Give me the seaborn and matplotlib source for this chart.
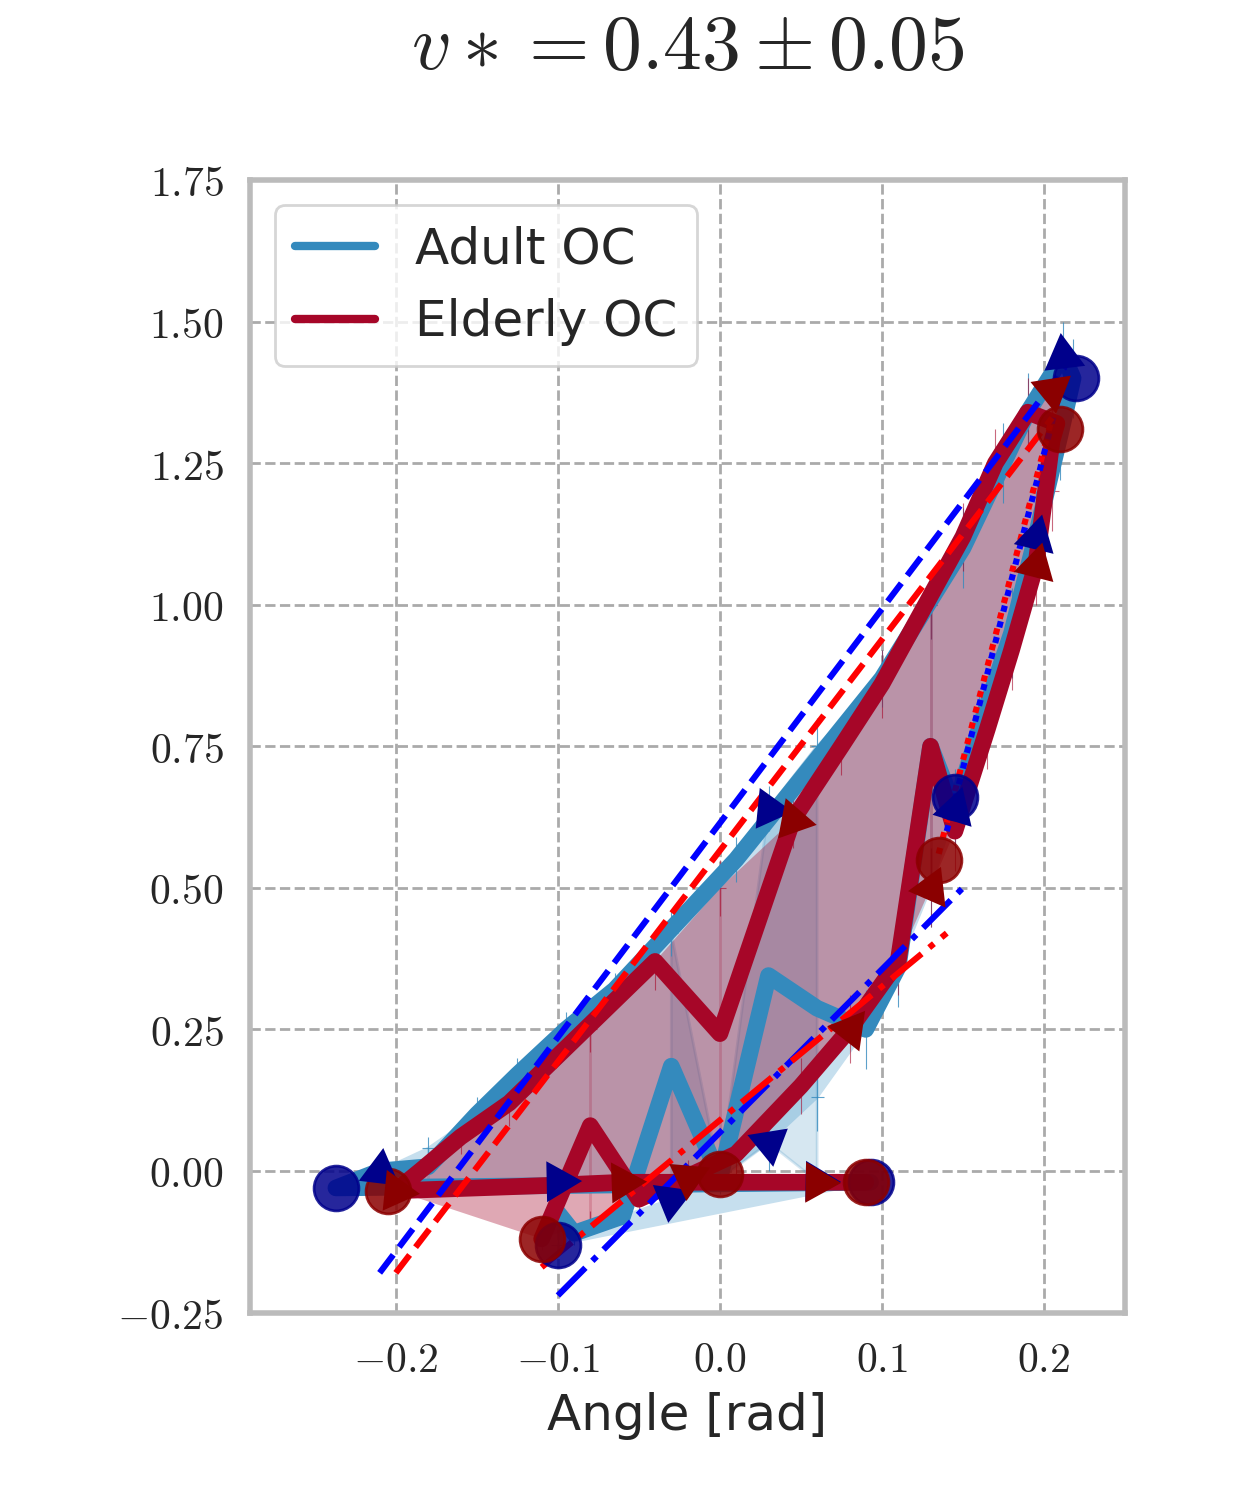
import numpy as np
import matplotlib.pyplot as plt
import seaborn as sns

sns.set_theme(style="whitegrid")
plt.rcParams['mathtext.fontset'] = 'cm'
plt.rcParams['font.family'] = ['DejaVu Sans']

adult_blue = "#348abd"
elder_red = "#a60628"

# Adult OC path: stance (lower branch) up, back down upper branch, then swing (flat)
adult_x = [-0.10, -0.09, -0.06, -0.03, 0.0, 0.03, 0.06, 0.09, 0.11, 0.13, 0.145, 0.16, 0.18, 0.195, 0.21, 0.218, 0.212,
           0.19, 0.175, 0.15, 0.13, 0.10, 0.06, 0.03, 0.01, -0.03, -0.065, -0.095, -0.125, -0.15, -0.18, -0.21, -0.237,
           -0.18, -0.10, 0.0, 0.06, 0.093]
adult_y = [-0.13, -0.11, -0.08, -0.05, -0.01, 0.05, 0.13, 0.25, 0.36, 0.50, 0.64, 0.78, 0.95, 1.12, 1.30, 1.40, 1.44,
           1.34, 1.25, 1.10, 1.00, 0.87, 0.75, 0.64, 0.55, 0.42, 0.32, 0.25, 0.17, 0.10, 0.04, 0.0, -0.03,
           -0.025, -0.018, -0.015, -0.018, -0.02]
adult_err = [0.02, 0.02, 0.03, 0.03, 0.03, 0.05, 0.06, 0.07, 0.07, 0.07, 0.07, 0.07, 0.08, 0.08, 0.08, 0.07, 0.06,
             0.07, 0.07, 0.07, 0.06, 0.05, 0.05, 0.04, 0.04, 0.04, 0.03, 0.03, 0.03, 0.03, 0.02, 0.02, 0.01,
             0.01, 0.01, 0.01, 0.01, 0.01]

elder_x = [-0.11, -0.08, -0.05, -0.02, 0.01, 0.05, 0.08, 0.11, 0.13, 0.145, 0.165, 0.18, 0.195, 0.205, 0.208, 0.205,
           0.19, 0.17, 0.15, 0.13, 0.10, 0.075, 0.045, 0.0, -0.04, -0.08, -0.13, -0.16, -0.185, -0.20,
           -0.10, -0.06, 0.0, 0.06, 0.09]
elder_y = [-0.12, -0.09, -0.05, -0.01, 0.03, 0.15, 0.25, 0.37, 0.50, 0.60, 0.78, 0.92, 1.07, 1.20, 1.32, 1.38,
           1.34, 1.25, 1.12, 1.00, 0.86, 0.75, 0.62, 0.50, 0.37, 0.25, 0.12, 0.06, 0.0, -0.035,
           -0.025, -0.02, -0.015, -0.02, -0.02]
elder_err = [0.02, 0.02, 0.03, 0.03, 0.04, 0.05, 0.06, 0.06, 0.07, 0.07, 0.07, 0.07, 0.07, 0.07, 0.06, 0.06,
             0.06, 0.06, 0.06, 0.06, 0.06, 0.05, 0.05, 0.05, 0.05, 0.04, 0.04, 0.03, 0.02, 0.01,
             0.01, 0.01, 0.01, 0.01, 0.01]

adult_circles = [(-0.10, -0.13), (0.145, 0.66), (0.22, 1.40), (-0.237, -0.03), (0.093, -0.02)]
elder_circles = [(-0.11, -0.12), (0.135, 0.55), (0.21, 1.31), (-0.205, -0.035), (0.09, -0.02), (0.0, -0.005)]
adult_tri_idx = [5, 10, 13, 16, 23, 31, 34, 36, 3]
elder_tri_idx = [3, 6, 8, 12, 15, 22, 29, 31, 33]

# fitted stiffness lines: (x0, y0, x1, y1)
adult_fits = [((-0.21, -0.18), (0.213, 1.42), '--'), ((-0.10, -0.22), (0.15, 0.50), '-.'), ((0.14, 0.60), (0.212, 1.40), ':')]
elder_fits = [((-0.20, -0.18), (0.205, 1.33), '--'), ((-0.11, -0.17), (0.14, 0.42), '-.'), ((0.135, 0.56), (0.205, 1.33), ':')]

fig, ax = plt.subplots(figsize=(6.25, 7.5), dpi=200)
fig.subplots_adjust(left=0.2, right=0.9, top=0.88, bottom=0.125)

ax.fill(adult_x, adult_y, color="#c6dfee", zorder=1)
ax.fill(elder_x[:30], elder_y[:30], color=elder_red, alpha=0.35, lw=0, zorder=2)

ax.errorbar(adult_x, adult_y, yerr=adult_err, xerr=0.004, fmt='none', ecolor=adult_blue, elinewidth=0.4, alpha=0.8, zorder=2)
ax.errorbar(elder_x, elder_y, yerr=elder_err, xerr=0.004, fmt='none', ecolor=elder_red, elinewidth=0.4, alpha=0.6, zorder=2)

sns.lineplot(x=adult_x, y=adult_y, sort=False, color=adult_blue, lw=6, ax=ax, label="Adult OC", zorder=3)
sns.lineplot(x=elder_x, y=elder_y, sort=False, color=elder_red, lw=6, ax=ax, label="Elderly OC", zorder=4)

for (p0, p1, ls) in adult_fits:
    ax.plot([p0[0], p1[0]], [p0[1], p1[1]], ls=ls, color="blue", lw=2.2, zorder=5)
for (p0, p1, ls) in elder_fits:
    ax.plot([p0[0], p1[0]], [p0[1], p1[1]], ls=ls, color="red", lw=2.2, zorder=5)

for xs, ys, idx, circ, c in [(adult_x, adult_y, adult_tri_idx, adult_circles, "darkblue"),
                              (elder_x, elder_y, elder_tri_idx, elder_circles, "darkred")]:
    ax.scatter([p[0] for p in circ], [p[1] for p in circ], s=260, color=c, alpha=0.85, zorder=6)
    for i in idx:
        j = min(i + 1, len(xs) - 1)
        dx = (xs[j] - xs[i - 1]) / 0.54 * 877
        dy = (ys[j] - ys[i - 1]) / 2.0 * 1132
        ang = np.degrees(np.arctan2(dy, dx)) - 90
        ax.plot(xs[i], ys[i], marker=(3, 0, ang), ms=15, color=c, ls='none', zorder=7)

ax.set_xlim(-0.29, 0.25)
ax.set_ylim(-0.25, 1.75)
ax.set_xticks([-0.2, -0.1, 0.0, 0.1, 0.2])
ax.set_xticklabels([r"$-0.2$", r"$-0.1$", r"$0.0$", r"$0.1$", r"$0.2$"], fontsize=15)
yt = [-0.25, 0.0, 0.25, 0.5, 0.75, 1.0, 1.25, 1.5, 1.75]
ax.set_yticks(yt)
ax.set_yticklabels([r"$%.2f$" % v for v in yt], fontsize=15)
ax.grid(True, ls='--', color='#aaaaaa', lw=1)
for s in ax.spines.values():
    s.set_color('#bbbbbb')
    s.set_linewidth(2)
ax.set_xlabel("Angle [rad]", fontsize=18)
ax.set_title(r"$v* = 0.43 \pm 0.05$", fontsize=28, pad=40)
leg = ax.legend(loc="upper left", fontsize=18, frameon=True, handlelength=1.6)
for h in leg.get_lines():
    h.set_linewidth(3)
fig.savefig("out.png")
